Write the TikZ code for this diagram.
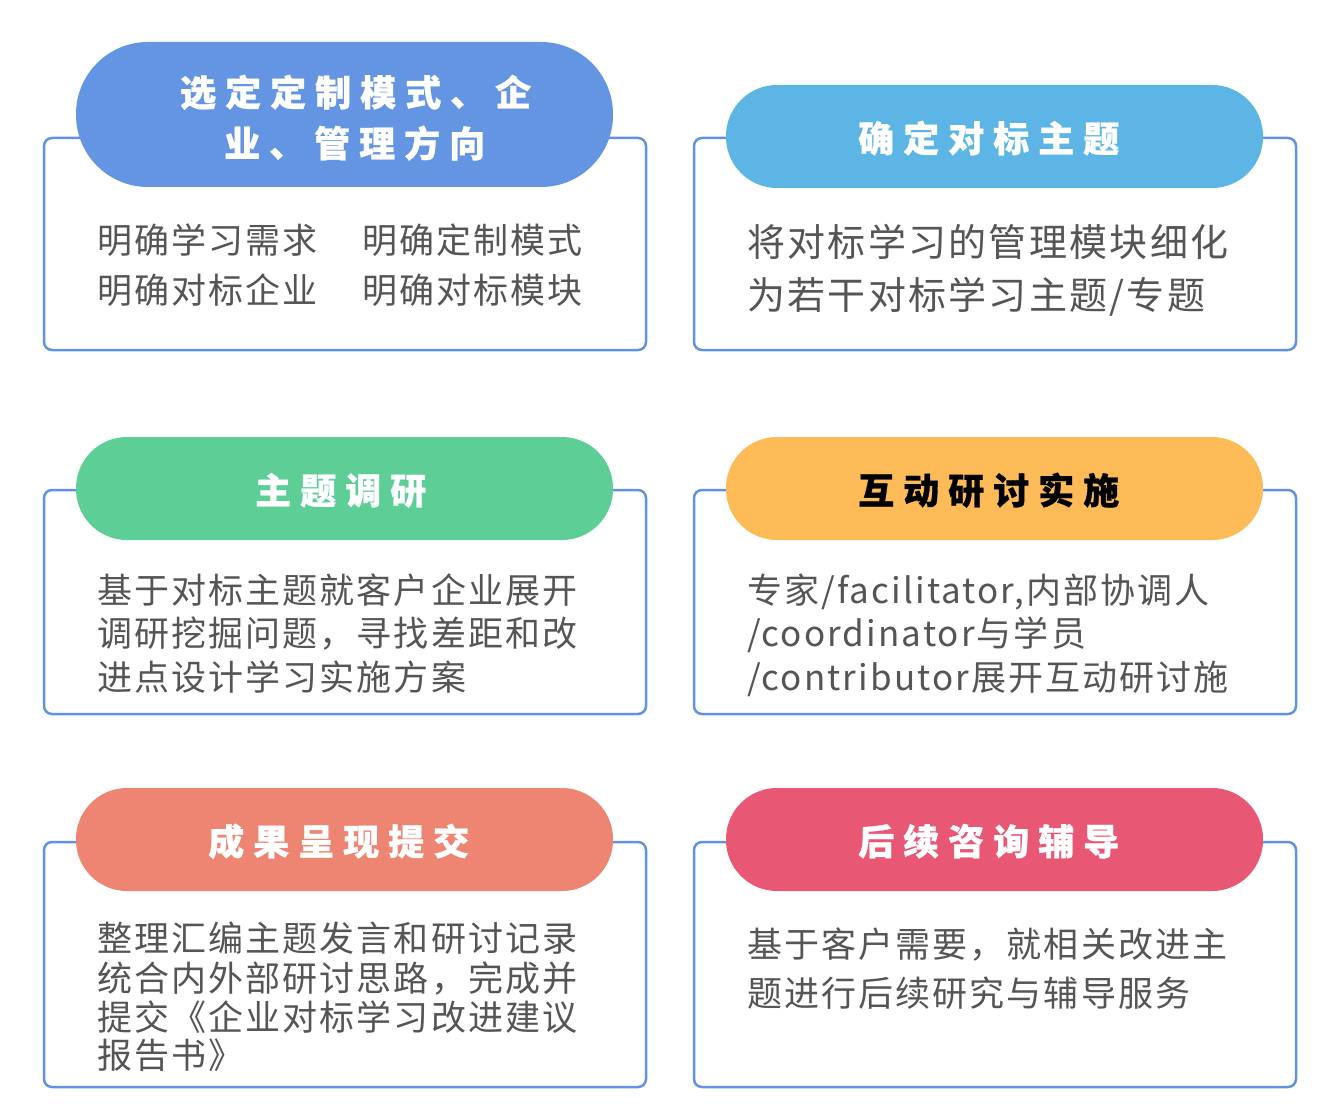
\documentclass[tikz,border=0pt]{standalone}
\usepackage{fontspec}
\newfontfamily\bodyfont[LetterSpace=6]{Noto Sans CJK SC}
\newfontfamily\titlefont[LetterSpace=25,FakeBold=0.8]{Noto Sans CJK SC}
\definecolor{edge}{HTML}{6193E0}
\definecolor{txt}{HTML}{555555}
\definecolor{pa}{HTML}{6495E3}
\definecolor{pb}{HTML}{5DB5E5}
\definecolor{pc}{HTML}{5CCE96}
\definecolor{pd}{HTML}{FDBB57}
\definecolor{pe}{HTML}{EE8572}
\definecolor{pf}{HTML}{E85773}
\tikzset{
  card/.style={draw=edge, line width=2.5pt, fill=white, rounded corners=8pt, minimum width=602pt, inner sep=0pt},
  pill/.style={draw=none, minimum width=537pt, minimum height=103pt, rounded corners=51pt, inner sep=0pt},
  ttl/.style={anchor=base west, inner sep=0pt, text=white, font=\titlefont\bfseries\fontsize{36pt}{42pt}\selectfont},
  bdy/.style={anchor=base west, inner sep=0pt, text=txt, font=\bodyfont\fontsize{35pt}{42pt}\selectfont},
  bdybig/.style={bdy, font=\bodyfont\fontsize{38pt}{44pt}\selectfont}
}
\begin{document}
\begin{tikzpicture}[x=1pt,y=-1pt]
\useasboundingbox (0,0) rectangle (1336,1118);
% cards
\node[card, minimum height=212pt] (c1) at (345,244) {};
\node[card, minimum height=212pt] (c2) at (995,244) {};
\node[card, minimum height=224pt] (c3) at (345,602) {};
\node[card, minimum height=224pt] (c4) at (995,602) {};
\node[card, minimum height=245pt] (c5) at (345,964.5) {};
\node[card, minimum height=245pt] (c6) at (995,964.5) {};
% pills
\node[pill, fill=pa, minimum height=145pt, rounded corners=72pt] (p1) at (344.5,114.5) {};
\node[pill, fill=pb] (p2) at (994.5,136.5) {};
\node[pill, fill=pc] (p3) at (344.5,488.5) {};
\node[pill, fill=pd] (p4) at (994.5,488.5) {};
\node[pill, fill=pe] (p5) at (344.5,839.5) {};
\node[pill, fill=pf] (p6) at (994.5,839.5) {};
% titles
\node[ttl] (t1a) at (180,106) {选定定制模式、企};
\node[ttl] (t1b) at (224,157) {业、管理方向};
\node[ttl] (t2) at (858,152) {确定对标主题};
\node[ttl] (t3) at (255,504) {主题调研};
\node[ttl, text=black] (t4) at (858,504) {互动研讨实施};
\node[ttl] (t5) at (208,855) {成果呈现提交};
\node[ttl] (t6) at (858,855) {后续咨询辅导};
% bodies
\node[bdy] (b1a) at (97,254) {明确学习需求};
\node[bdy] (b1b) at (362,254) {明确定制模式};
\node[bdy] (b1c) at (97,303) {明确对标企业};
\node[bdy] (b1d) at (362,303) {明确对标模块};
\node[bdybig] (b2a) at (747,256) {将对标学习的管理模块细化};
\node[bdybig] (b2b) at (747,309) {为若干对标学习主题/专题};
\node[bdy] (b3a) at (97,603) {基于对标主题就客户企业展开};
\node[bdy] (b3b) at (97,646) {调研挖掘问题，寻找差距和改};
\node[bdy] (b3c) at (97,690) {进点设计学习实施方案};
\node[bdy] (b4a) at (747,603) {专家/facilitator,内部协调人};
\node[bdy] (b4b) at (747,646) {/coordinator与学员};
\node[bdy] (b4c) at (747,690) {/contributor展开互动研讨施};
\node[bdy] (b5a) at (97,951) {整理汇编主题发言和研讨记录};
\node[bdy] (b5b) at (97,991) {统合内外部研讨思路，完成并};
\node[bdy] (b5c) at (97,1030) {提交《企业对标学习改进建议};
\node[bdy] (b5d) at (97,1068) {报告书》};
\node[bdy] (b6a) at (747,957) {基于客户需要，就相关改进主};
\node[bdy] (b6b) at (747,1006) {题进行后续研究与辅导服务};
\end{tikzpicture}
\end{document}
